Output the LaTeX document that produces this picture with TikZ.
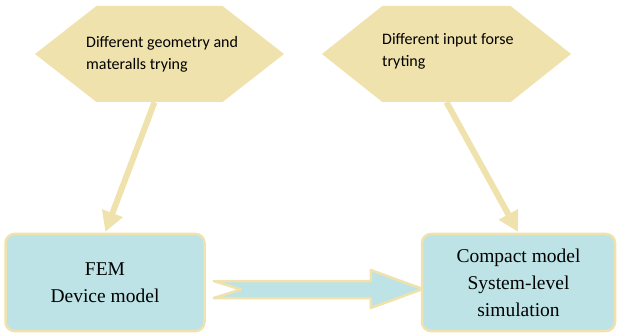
\documentclass[tikz,border=0pt]{standalone}
\usepackage{fontspec}
\setmainfont{Liberation Serif}
\newfontfamily\hexfont{Carlito}
\usetikzlibrary{shapes.symbols,arrows.meta,calc}

\definecolor{wheatfill}{RGB}{239,226,172}
\definecolor{boxblue}{RGB}{189,227,230}

\begin{document}
\begin{tikzpicture}[x=1pt, y=-1pt, line join=round,
		hexnode/.style={shape=signal, signal to=west and east, fill=wheatfill, draw=none,
			minimum height=96pt, inner sep=0pt},
		hextext/.style={font=\hexfont\fontsize{16}{22}\selectfont, align=left, anchor=west, inner sep=0pt},
		modelbox/.style={draw=wheatfill, fill=boxblue, line width=2.5pt, rounded corners=9pt,
			minimum width=199pt, minimum height=97pt, inner sep=0pt,
			font=\fontsize{19.5}{27}\selectfont, align=center},
		feedarrow/.style={draw=wheatfill, line width=6pt, -{Triangle[length=20pt,width=21pt]}, shorten >=1pt},
		bigarrow/.style={fill=boxblue, draw=wheatfill, line width=2.5pt}]
	% Keep the page the size of the reference
	\useasboundingbox (0,0) rectangle (617,336);
	
	% Two hexagons with the trial inputs
	\node[hexnode, minimum width=249pt, signal pointer angle=76] (geomhex) at (159.5,54) {};
	\node[hexnode, minimum width=249pt, signal pointer angle=77] (forcehex) at (446.5,54) {};
	\node[hextext] (geomtext) at (86,54) {Different geometry and\\materalls trying};
	\node[hextext] (forcetext) at (382,51.5) {Different input forse\\tryting};
	
	% Model boxes
	\node[modelbox] (fem) at (105,282.5) {FEM\\Device model};
	\node[modelbox, minimum width=193pt] (compact) at (518.5,282.5) {Compact model\\System-level\\simulation};
	
	% Arrows from the hexagons down to the boxes
	\draw[feedarrow] ($(geomhex.south)+(-5,0)$) -- (fem.north);
	\draw[feedarrow] (forcehex.south) -- (compact.north);
	
	% Wide arrow with notched tail between the boxes
	\draw[bigarrow] ($(fem.east)+(8,-1.5)$) -- ++(27,8.5) -- ++(-27,8.5) -- ++(157,0)
		-- ++(0,10) -- ++(52,-19) -- ++(-52,-19) -- ++(0,11) -- cycle;
\end{tikzpicture}
\end{document}
